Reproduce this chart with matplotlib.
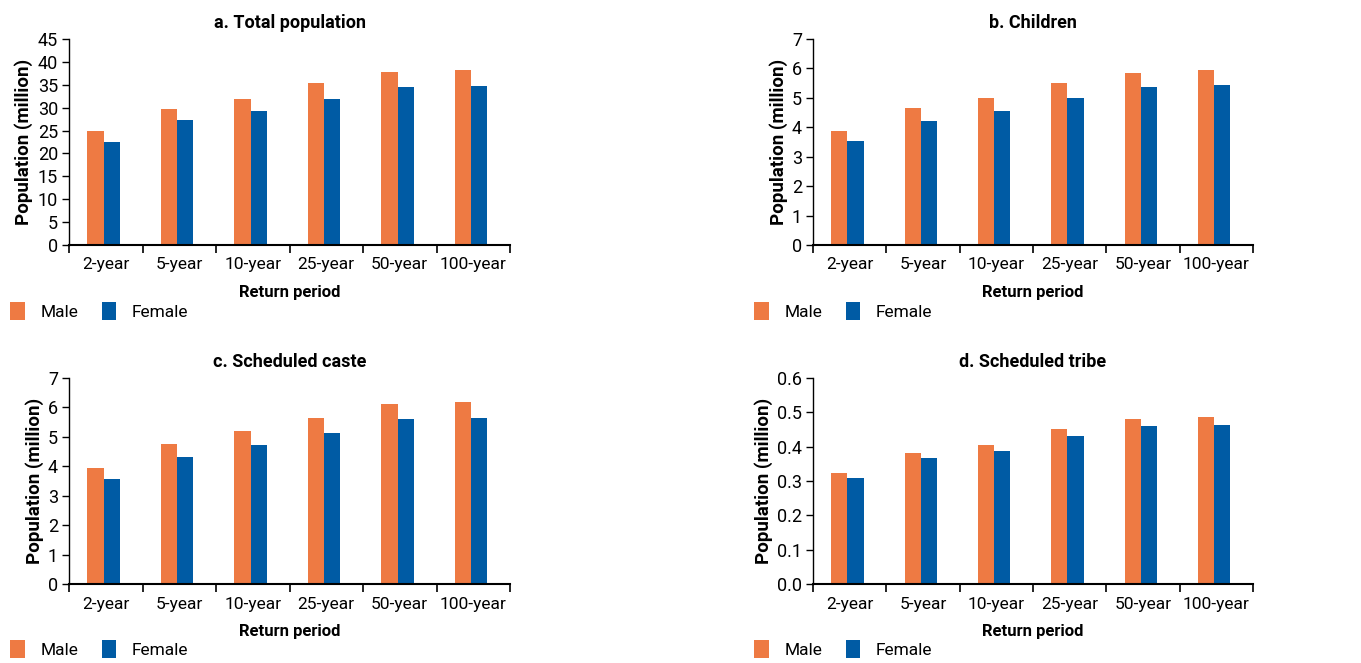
import numpy as np
import matplotlib
matplotlib.use("Agg")
import matplotlib.pyplot as plt
from matplotlib.ticker import FixedLocator, NullFormatter

plt.rcParams['font.family'] = ['Roboto', 'DejaVu Sans']

# data
periods = ['2-year', '5-year', '10-year', '25-year', '50-year', '100-year']

total_male = [25.0, 29.8, 32.0, 35.3, 37.7, 38.3]
total_female = [22.6, 27.2, 29.2, 32.0, 34.6, 34.8]

children_male = [3.89, 4.64, 4.98, 5.49, 5.86, 5.96]
children_female = [3.52, 4.23, 4.54, 4.98, 5.38, 5.42]

caste_male = [3.95, 4.77, 5.21, 5.65, 6.13, 6.20]
caste_female = [3.58, 4.32, 4.73, 5.14, 5.62, 5.65]

tribe_male = [0.324, 0.382, 0.406, 0.452, 0.481, 0.487]
tribe_female = [0.309, 0.368, 0.388, 0.432, 0.461, 0.464]

titles = ['a. Total population', 'b. Children', 'c. Scheduled caste', 'd. Scheduled tribe']
ymax = [45, 7, 7, 0.6]
ystep = [5, 1, 1, 0.1]

MALE = '#EE7A43'
FEMALE = '#005BA4'

W, H = 1361, 663
fig = plt.figure(figsize=(W / 100, H / 100), dpi=100)

# axes boxes in pixels: left, top, right, bottom
boxes = [(69, 39, 510, 245), (813, 39, 1253, 245),
         (69, 378, 510, 584), (813, 378, 1253, 584)]
legend_pos = [(10, 302), (754, 302), (10, 640), (754, 640)]

series = [(total_male, total_female), (children_male, children_female),
          (caste_male, caste_female), (tribe_male, tribe_female)]

x = np.arange(len(periods))
bw = 0.22

for i in range(4):
    l, t, r, b = boxes[i]
    ax = fig.add_axes([l / W, 1 - b / H, (r - l) / W, (b - t) / H])
    m, f = series[i]
    ax.bar(x - bw / 2 - 0.03, m, bw, color=MALE, label='Male')
    ax.bar(x + bw / 2 - 0.03, f, bw, color=FEMALE, label='Female')

    ax.set_xlim(-0.5, len(periods) - 0.5)
    ax.set_ylim(0, ymax[i])
    ax.set_yticks(np.arange(0, ymax[i] + ystep[i] / 2, ystep[i]))
    if i == 3:
        ax.set_yticklabels(['%.1f' % v for v in ax.get_yticks()])

    ax.set_xticks(x)
    ax.set_xticklabels(periods)
    ax.tick_params(axis='x', which='major', length=0, pad=9, labelsize=12.5)
    ax.xaxis.set_minor_locator(FixedLocator(np.arange(-0.5, len(periods), 1)))
    ax.xaxis.set_minor_formatter(NullFormatter())
    ax.tick_params(axis='x', which='minor', length=6, width=1.2, direction='out')
    ax.tick_params(axis='y', length=5, width=1, pad=3, labelsize=13)

    for s in ['top', 'right']:
        ax.spines[s].set_visible(False)
    ax.spines['left'].set_linewidth(1)
    ax.spines['bottom'].set_linewidth(1.5)

    ax.set_title(titles[i], fontsize=13, fontweight='bold', pad=8)
    ax.set_xlabel('Return period', fontsize=12, fontweight='bold', labelpad=9)
    ax.set_ylabel('Population (million)', fontsize=13.5, fontweight='bold', labelpad=3)

    lx, ly = legend_pos[i]
    ax.legend(loc='upper left', bbox_to_anchor=(lx / W, 1 - ly / H),
              bbox_transform=fig.transFigure, ncol=2, frameon=False,
              fontsize=12.5, handlelength=0.85, handleheight=1.2,
              handletextpad=0.9, columnspacing=1.35,
              borderpad=0, borderaxespad=0)

fig.savefig('out.png', dpi=100)
